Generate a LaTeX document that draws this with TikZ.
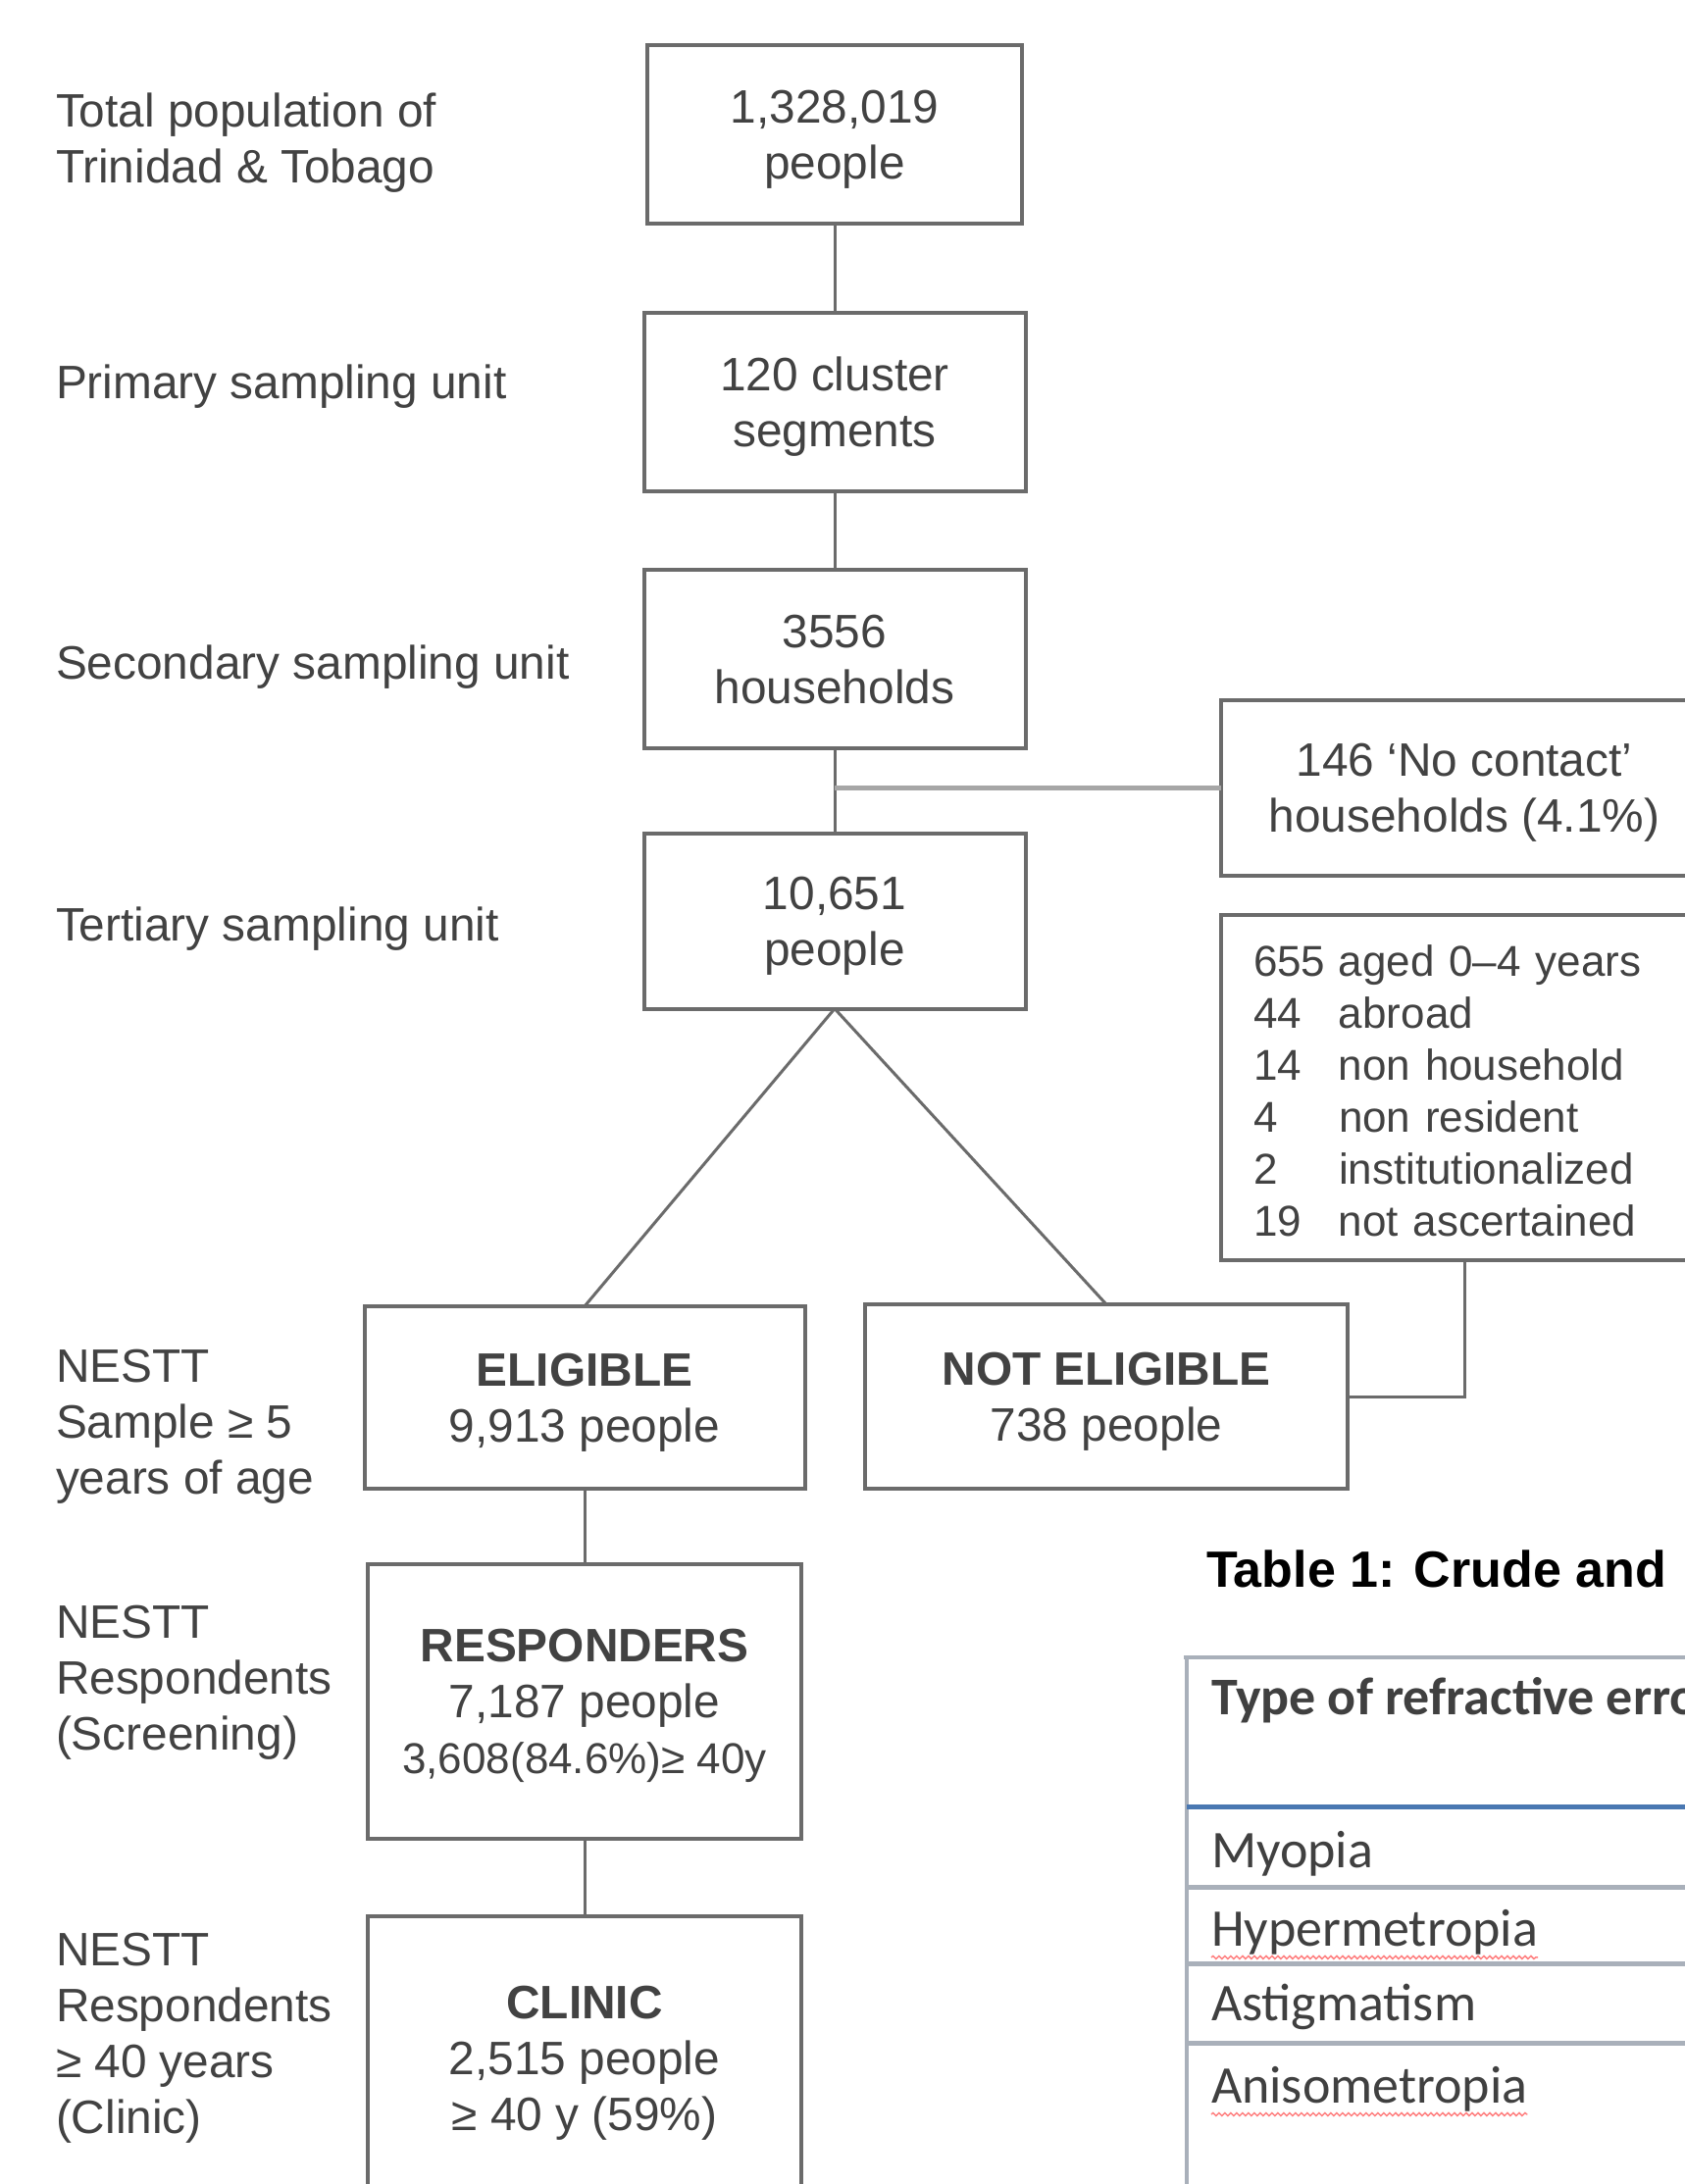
\documentclass[tikz,border=0pt]{standalone}
\usepackage{fontspec}
\setmainfont{Liberation Sans}
\newfontfamily\tablefont{Carlito}
\usepackage{xcolor}
\usepackage{tikz}
\usetikzlibrary{positioning,decorations.pathmorphing}
\definecolor{boxline}{HTML}{6B6B6B}
\definecolor{boxtext}{HTML}{424242}
\definecolor{rulegrey}{HTML}{A9B0BA}
\definecolor{ruleblue}{HTML}{4A78B2}

\begin{document}
\begin{tikzpicture}[
			x=1pt, y=-1pt,
			every node/.style={inner sep=0pt, outer sep=0pt, text=boxtext, font=\fontsize{47.8}{57}\selectfont},
			framed/.style={draw=boxline, line width=4pt},
			box/.style={framed, align=center, text depth=-6pt, minimum width=389pt, minimum height=182pt},
			listbox/.style={framed, align=left, text width=430pt, minimum width=496pt, minimum height=352pt, font=\fontsize{44}{53}\selectfont},
			sidelabel/.style={anchor=west, align=left},
			link/.style={draw=boxline, line width=3pt},
			tablerule/.style={line width=4pt, draw=rulegrey},
			tabcell/.style={anchor=west, text=black!75, font=\tablefont\fontsize{54}{64}\selectfont},
			spell/.style={draw=red!50, line width=1.5pt, decorate, decoration={snake, amplitude=1.5pt, segment length=6pt}}
			]

				\useasboundingbox (0,0) rectangle (1718,2227);
				\fill[white] (0,0) rectangle (1718,2227);
				\clip (0,0) rectangle (1718,2227);

				\node[box, minimum width=382pt] (pop) at (851,137) {1,328,019\\people};
				\node[box] (psu) at (851,410) {120 cluster\\segments};
				\node[box] (ssu) at (851,672) {3556\\households};
				\node[box, minimum height=179pt] (tsu) at (851,939) {10,651\\people};

				\node[box, minimum width=496pt, minimum height=179pt] (nocontact) at (1493,803) {146 `No contact'\\households (4.1\%)};
				\node[listbox] (excl) at (1493,1109) {%
					\raisebox{0pt}[\dimexpr\height+17pt\relax][\depth]{%
					\begin{tabular}{@{}p{87pt}@{}l@{}}
						655 & aged 0--4 years\\
						44 & abroad\\
						14 & non household\\
						4 & non resident\\
						2 & institutionalized\\
						19 & not ascertained
					\end{tabular}}};

				\node[box, minimum width=449pt, minimum height=186pt] (elig) at (596,1425) {\textbf{ELIGIBLE}\\9,913 people};
				\node[box, minimum width=492pt, minimum height=188pt] (notelig) at (1128,1424) {\textbf{NOT ELIGIBLE}\\738 people};
				\node[box, minimum width=442pt, minimum height=280pt] (resp) at (596,1735) {\textbf{RESPONDERS}\\7,187 people\\{\fontsize{44}{53}\selectfont 3,608(84.6\%)≥ 40y}};
				\node[box, minimum width=442pt, minimum height=290pt] (clinic) at (596,2099) {\textbf{CLINIC}\\2,515 people\\≥ 40 y (59\%)};

				\node[sidelabel] (lpop) at (57,146) {Total population of\\Trinidad \& Tobago};
				\node[sidelabel] (lpsu) at (57,394) {Primary sampling unit};
				\node[sidelabel] (lssu) at (57,680) {Secondary sampling unit};
				\node[sidelabel] (ltsu) at (57,947) {Tertiary sampling unit};
				\node[sidelabel] (lelig) at (57,1455) {NESTT\\Sample ≥ 5\\years of age};
				\node[sidelabel] (lresp) at (57,1716) {NESTT\\Respondents\\(Screening)};
				\node[sidelabel] (lclinic) at (57,2078) {NESTT\\Respondents\\≥ 40 years\\(Clinic)};

				\draw[link] (pop) -- (psu);
				\draw[link] (psu) -- (ssu);
				\draw[link] (ssu) -- (tsu);
				\draw[link, line width=5pt, draw=black!35] (ssu.south |- nocontact.west) -- (nocontact.west);
				\draw[link] (tsu.south) -- (elig.north);
				\draw[link] (tsu.south) -- (notelig.north);
				\draw[link] (excl.south) |- (notelig.east);
				\draw[link] (elig) -- (resp);
				\draw[link] (resp) -- (clinic);

				\node[anchor=west, text=black, font=\fontsize{52}{62}\selectfont\bfseries] (tabtitle) at (1230,1600) {Table 1: Crude and};

				\draw[tablerule] (1207,1690) -- (1718,1690);
				\draw[tablerule] (1210,1690) -- (1210,2227);
				\draw[line width=5pt, draw=ruleblue] (1210,1842) -- (1718,1842);
				\foreach \y in {1924,2002,2083}
					\draw[tablerule, line width=5pt] (1210,\y) -- (1718,\y);

				\node[tabcell, font=\tablefont\bfseries\fontsize{54}{64}\selectfont] (tabhead) at (1235,1734) {Type of refractive error};
				\foreach \name/\y/\txt in {myo/1890/Myopia, hyp/1970/Hypermetropia, ast/2046/Astigmatism, ani/2130/Anisometropia}
					\node[tabcell] (\name) at (1235,\y) {\txt};

				\draw[spell] ([yshift=-3pt]hyp.south west) -- ([yshift=-3pt]hyp.south east);
				\draw[spell] ([yshift=-3pt]ani.south west) -- ([yshift=-3pt]ani.south east);

			\end{tikzpicture}
\end{document}
